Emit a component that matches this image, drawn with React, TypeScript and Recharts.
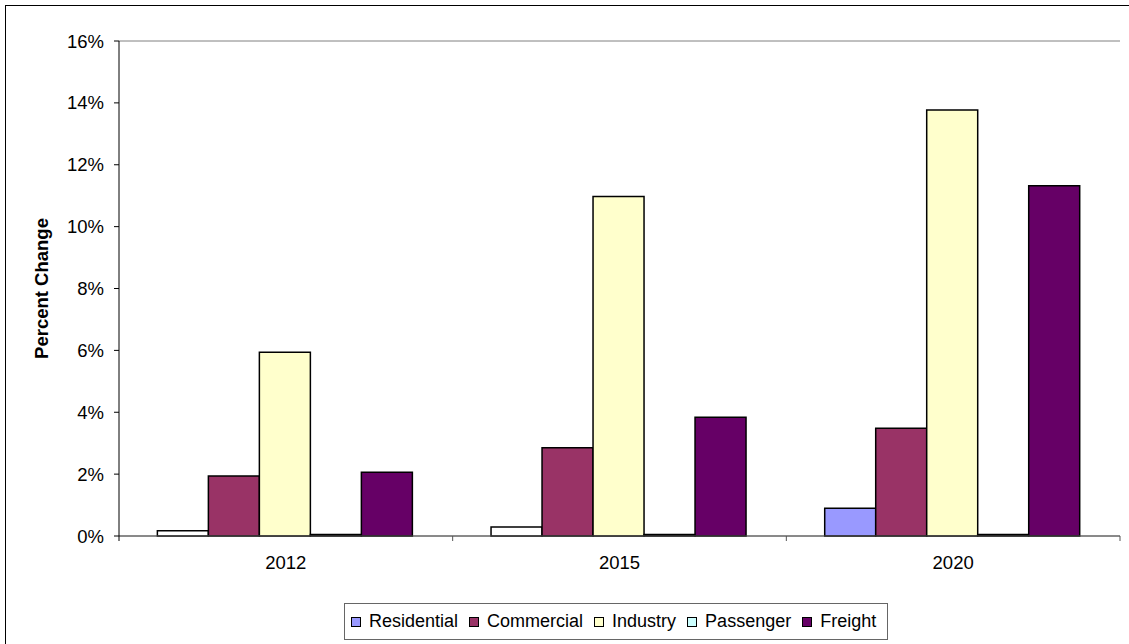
import React from 'react';
import { BarChart, Bar, XAxis, YAxis, CartesianGrid, Cell } from 'recharts';

const years = ['2012', '2015', '2020'];
const residential = [0.17, 0.29, 0.9];
const commercial = [1.94, 2.85, 3.48];
const industry = [5.94, 10.97, 13.77];
const passenger = [0.05, 0.05, 0.05];
const freight = [2.06, 3.84, 11.32];
const yTicks = [0, 2, 4, 6, 8, 10, 12, 14, 16];

const seriesNames = ['Residential', 'Commercial', 'Industry', 'Passenger', 'Freight'];
const seriesKeys = ['residential', 'commercial', 'industry', 'passenger', 'freight'];
const seriesColors = ['#9999FF', '#993366', '#FFFFCC', '#CCFFFF', '#660066'];
// the two tiny Residential bars render with a white interior in the reference
const residentialCellFills = ['#FFFFFF', '#FFFFFF', '#9999FF'];

const data = years.map((y, i) => ({
  year: y,
  residential: residential[i],
  commercial: commercial[i],
  industry: industry[i],
  passenger: passenger[i],
  freight: freight[i],
}));

const W = 1129;
const H = 644;
const MARGIN = { top: 41, right: 9, left: 0, bottom: 78 };
const YAXIS_W = 119;
const XAXIS_H = 30;
const BAND = (W - MARGIN.left - MARGIN.right - YAXIS_W) / years.length;
const FONT = '"Liberation Sans", Arial, sans-serif';
const FS = 18.5;

const XTick = (props: any) => {
  const { x, y, payload, index } = props;
  const half = BAND / 2;
  return (
    <g>
      {index === 0 && <line x1={x - half} x2={x - half} y1={y} y2={y + 5} stroke="#000" strokeWidth={1} />}
      <line x1={x + half} x2={x + half} y1={y} y2={y + 5} stroke="#555" strokeWidth={1} />
      <text x={x} y={y + 33} textAnchor="middle" fontFamily={FONT} fontSize={FS} fill="#000">
        {payload.value}
      </text>
    </g>
  );
};

const YLabel = (props: any) => {
  const vb = props.viewBox || {};
  const cx = (vb.x ?? 0) + 41;
  const cy = (vb.y ?? 0) + (vb.height ?? 0) / 2;
  return (
    <text
      x={cx}
      y={cy}
      transform={`rotate(-90 ${cx} ${cy})`}
      textAnchor="middle"
      dominantBaseline="central"
      fontFamily={FONT}
      fontSize={FS}
      fontWeight="bold"
      fill="#000"
    >
      Percent Change
    </text>
  );
};

export default function App() {
  return (
    <div style={{ position: 'fixed', left: 0, top: 0, width: W, height: H, overflow: 'hidden', background: '#fff' }}>
      <div
        style={{
          position: 'absolute',
          left: 5,
          top: 5,
          width: W + 20,
          height: H + 20,
          border: '1px solid #000',
          boxSizing: 'border-box',
        }}
      />
      <div style={{ position: 'absolute', left: 0, top: 0 }}>
        <BarChart width={W} height={H} data={data} margin={MARGIN} barCategoryGap="11.5%" barGap={0}>
          <CartesianGrid vertical={false} stroke="#808080" strokeWidth={1} />
          <XAxis
            dataKey="year"
            height={XAXIS_H}
            axisLine={{ stroke: '#555', strokeWidth: 1 }}
            tickLine={false}
            tickSize={0}
            tickMargin={0}
            tick={<XTick />}
            interval={0}
          />
          <YAxis
            yAxisId="left"
            width={YAXIS_W}
            domain={[0, 16]}
            ticks={yTicks}
            interval={0}
            tickFormatter={(v: number) => `${v}%`}
            axisLine={{ stroke: '#000', strokeWidth: 1 }}
            tickLine={{ stroke: '#000', strokeWidth: 1 }}
            tickSize={5}
            tickMargin={10}
            tick={{ fontFamily: FONT, fontSize: FS, fill: '#000' }}
            label={<YLabel />}
          />
          <YAxis
            yAxisId="right"
            orientation="right"
            width={0}
            domain={[0, 16]}
            ticks={yTicks}
            tick={false}
            tickLine={false}
            axisLine={{ stroke: '#808080', strokeWidth: 1 }}
          />
          {seriesKeys.map((k, si) => (
            <Bar
              key={k}
              yAxisId="left"
              dataKey={k}
              name={seriesNames[si]}
              fill={seriesColors[si]}
              stroke="#000"
              strokeWidth={1.5}
              isAnimationActive={false}
            >
              {k === 'residential' && data.map((d, i) => <Cell key={i} fill={residentialCellFills[i]} />)}
            </Bar>
          ))}
        </BarChart>
      </div>
      <div
        style={{
          position: 'absolute',
          left: 344,
          top: 603,
          width: 544,
          height: 37,
          border: '1px solid #666',
          boxSizing: 'border-box',
          display: 'flex',
          alignItems: 'center',
          justifyContent: 'flex-start',
          paddingLeft: 6,
          fontFamily: FONT,
          fontSize: 18,
          color: '#000',
          whiteSpace: 'nowrap',
        }}
      >
        {seriesNames.map((n, i) => (
          <div key={n} style={{ display: 'flex', alignItems: 'center', marginRight: i < seriesNames.length - 1 ? 11 : 0 }}>
            <span
              style={{
                display: 'inline-block',
                width: 10,
                height: 10,
                background: seriesColors[i],
                border: '1px solid #000',
                boxSizing: 'border-box',
                marginRight: 8,
              }}
            />
            <span>{n}</span>
          </div>
        ))}
      </div>
    </div>
  );
}
